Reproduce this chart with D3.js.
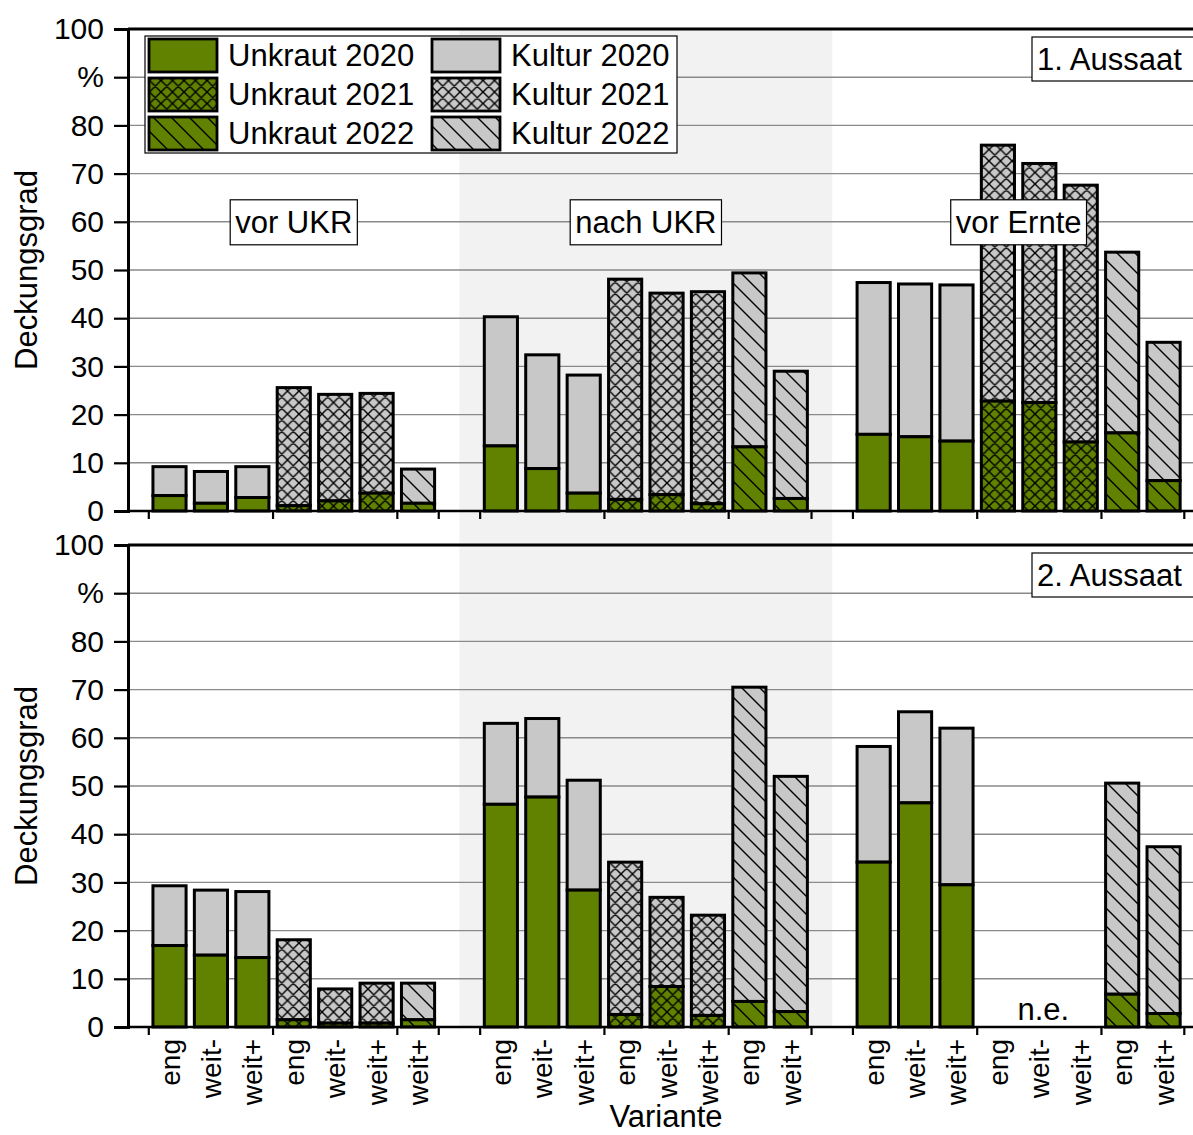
<!DOCTYPE html>
<html>
<head>
<meta charset="utf-8">
<script src="https://cdn.jsdelivr.net/npm/d3@7"></script>
<style>
  body { margin: 0; background: #fff; }
  text { font-family: "Liberation Sans", Arial, sans-serif; fill: #000; }
</style>
</head>
<body>
<svg id="chart" width="1193" height="1135"></svg>
<script>
// ---- data -------------------------------------------------------------
// one slot per bar; null slots are the gaps between the three dates
const variante = ["eng","weit-","weit+","eng","weit-","weit+","weit+",null,
                  "eng","weit-","weit+","eng","weit-","weit+","eng","weit+",null,
                  "eng","weit-","weit+","eng","weit-","weit+","eng","weit+"];
const jahr = [2020,2020,2020,2021,2021,2021,2022,null,
              2020,2020,2020,2021,2021,2021,2022,2022,null,
              2020,2020,2020,2021,2021,2021,2022,2022];
const termine = ["vor UKR", "nach UKR", "vor Ernte"];
const terminSlots = [[0, 6], [8, 15], [17, 24]];
const aussaat = ["1. Aussaat", "2. Aussaat"];

// Deckungsgrad (%) – Unkraut (bottom segment) and Kultur (stacked on top)
const unkraut1 = [3.2,1.6,2.8,1.1,2.1,3.7,1.6,null,
                  13.5,8.8,3.7,2.4,3.4,1.5,13.3,2.6,null,
                  15.9,15.4,14.5,22.8,22.5,14.3,16.2,6.3];
const kultur1  = [6.0,6.6,6.4,24.5,22.1,20.7,7.1,null,
                  26.8,23.6,24.5,45.7,41.8,44.0,36.1,26.4,null,
                  31.5,31.7,32.4,53.1,49.6,53.3,37.5,28.7];
const unkraut2 = [16.9,14.9,14.4,1.5,0.8,0.8,1.5,null,
                  46.2,47.7,28.4,2.6,8.4,2.4,5.3,3.2,null,
                  34.2,46.5,29.5,null,null,null,6.8,2.8];
const kultur2  = [12.4,13.5,13.7,16.6,7.1,8.3,7.6,null,
                  16.8,16.3,22.8,31.6,18.5,20.8,65.2,48.8,null,
                  24.0,18.9,32.5,null,null,null,43.8,34.6];

const yTicks = [0,10,20,30,40,50,60,70,80,90,100];
const yTickLabels = ["0","10","20","30","40","50","60","70","80","%","100"];
const legendLabels = [["Unkraut 2020","Unkraut 2021","Unkraut 2022"],
                      ["Kultur 2020","Kultur 2021","Kultur 2022"]];
const legendYears = [2020, 2021, 2022];

// ---- styling ------------------------------------------------------------
const GREEN = "#608200", GREY = "#c8c8c8", BAND = "#f2f2f2", GRID = "#8a8a8a";
const FONT = 31;

const svg = d3.select("#chart");
const defs = svg.append("defs");

// fill patterns: 2020 solid, 2021 cross-hatch, 2022 diagonal lines
function makePattern(id, color, kind) {
  const s = kind === "cross" ? 11.5 : 18;
  const p = defs.append("pattern").attr("id", id)
    .attr("patternUnits", "userSpaceOnUse").attr("width", s).attr("height", s);
  p.append("rect").attr("width", s).attr("height", s).attr("fill", color);
  let d = `M-2,-2L${s + 2},${s + 2}M-3,${s - 3}L3,${s + 3}M${s - 3},-3L${s + 3},3`;
  if (kind === "cross") d += `M${s + 2},-2L-2,${s + 2}M-3,3L3,-3M${s - 3},${s + 3}L${s + 3},${s - 3}`;
  p.append("path").attr("d", d).attr("stroke", "#000").attr("stroke-width", 1.4).attr("fill", "none");
}
makePattern("g2021", GREEN, "cross");
makePattern("k2021", GREY, "cross");
makePattern("g2022", GREEN, "diag");
makePattern("k2022", GREY, "diag");
function fillFor(year, isWeed) {
  if (year === 2020) return isWeed ? GREEN : GREY;
  return `url(#${isWeed ? "g" : "k"}${year})`;
}

// ---- scales -----------------------------------------------------------
const slots = d3.range(variante.length);
const x = d3.scaleBand().domain(slots).range([148.8, 1184.3])
  .paddingInner(0.2).paddingOuter(0.1);
const step = x.step(), bw = x.bandwidth();
const cx = i => x(i) + bw / 2;
const leftEdge = i => x(i) - step * 0.1;
const rightEdge = i => x(i) + bw + step * 0.1;

const plotLeft = 128, plotRight = 1200;
const panels = [
  { y: d3.scaleLinear().domain([0, 100]).range([511, 29]), unk: unkraut1, kul: kultur1, title: aussaat[0] },
  { y: d3.scaleLinear().domain([0, 100]).range([1027, 545]), unk: unkraut2, kul: kultur2, title: aussaat[1] }
];

// shaded "nach UKR" band spanning both panels
svg.append("rect")
  .attr("x", cx(7)).attr("width", cx(16) - cx(7))
  .attr("y", panels[0].y(100)).attr("height", panels[1].y(0) - panels[0].y(100))
  .attr("fill", BAND);

// year-group boundaries for the x ticks
const xTickPos = [];
slots.forEach(i => {
  if (jahr[i] == null) return;
  if (i === 0 || jahr[i - 1] !== jahr[i]) xTickPos.push(leftEdge(i));
  if (i === slots.length - 1 || jahr[i + 1] == null) xTickPos.push(rightEdge(i));
});

panels.forEach((P, pi) => {
  const g = svg.append("g");
  const y = P.y;

  // horizontal grid
  g.selectAll("line.grid").data(yTicks.filter(t => t > 0 && t < 100)).join("line")
    .attr("x1", plotLeft).attr("x2", plotRight)
    .attr("y1", d => y(d)).attr("y2", d => y(d))
    .attr("stroke", GRID).attr("stroke-width", 1.4);

  // top frame line at 100
  g.append("line").attr("x1", plotLeft).attr("x2", plotRight)
    .attr("y1", y(100)).attr("y2", y(100))
    .attr("stroke", "#000").attr("stroke-width", 2.8);

  // stacked bars
  const bars = slots.filter(i => P.unk[i] != null);
  const bg = g.append("g");
  bars.forEach(i => {
    const u = P.unk[i], k = P.kul[i];
    bg.append("rect")
      .attr("x", x(i)).attr("width", bw)
      .attr("y", y(u + k)).attr("height", y(u) - y(u + k))
      .attr("fill", fillFor(jahr[i], false))
      .attr("stroke", "#000").attr("stroke-width", 3);
    bg.append("rect")
      .attr("x", x(i)).attr("width", bw)
      .attr("y", y(u)).attr("height", y(0) - y(u))
      .attr("fill", fillFor(jahr[i], true))
      .attr("stroke", "#000").attr("stroke-width", 3);
  });

  // x baseline and year-group ticks
  g.append("line").attr("x1", plotLeft).attr("x2", plotRight)
    .attr("y1", y(0)).attr("y2", y(0)).attr("stroke", "#000").attr("stroke-width", 2.4);
  g.selectAll("line.xt").data(xTickPos).join("line")
    .attr("x1", d => d).attr("x2", d => d)
    .attr("y1", y(0)).attr("y2", y(0) + 8)
    .attr("stroke", "#000").attr("stroke-width", 2.2);

  // y axis
  const yAxis = d3.axisLeft(y).tickValues(yTicks)
    .tickFormat((d, i) => yTickLabels[i]).tickSize(14).tickPadding(10);
  const ya = g.append("g").attr("transform", `translate(${plotLeft},0)`).call(yAxis);
  ya.select(".domain").attr("stroke", "#000").attr("stroke-width", 3);
  ya.selectAll(".tick line").attr("stroke", "#000").attr("stroke-width", 2.2);
  ya.selectAll(".tick text").attr("font-size", 30)
    .attr("font-family", '"Liberation Sans", Arial, sans-serif').attr("fill", "#000");

  // y title
  g.append("text")
    .attr("transform", `translate(37,${(y(0) + y(100)) / 2}) rotate(-90)`)
    .attr("text-anchor", "middle").attr("font-size", FONT).text("Deckungsgrad");

  // panel title box
  g.append("rect")
    .attr("x", 1032).attr("y", y(100) + 8).attr("width", 200).attr("height", 44)
    .attr("fill", "#fff").attr("stroke", "#000").attr("stroke-width", 1.2);
  g.append("text").attr("x", 1037).attr("y", y(100) + 41)
    .attr("font-size", FONT).text(P.title);
});

// date labels in boxed text, top panel
const yTop = panels[0].y;
termine.forEach((t, i) => {
  const [a, b] = terminSlots[i];
  const xc = (cx(a) + cx(b)) / 2;
  const lg = svg.append("g");
  const box = lg.append("rect");
  const txt = lg.append("text").attr("x", xc).attr("y", yTop(60)).attr("dy", "0.36em")
    .attr("text-anchor", "middle").attr("font-size", FONT).text(t);
  const bb = txt.node().getBBox();
  box.attr("x", bb.x - 5).attr("width", bb.width + 10)
    .attr("y", yTop(60) - 22).attr("height", 45)
    .attr("fill", "#fff").attr("stroke", "#000").attr("stroke-width", 1.2);
});

// "n.e." marker for the missing 2021 values in the second sowing
svg.append("text").attr("x", (cx(20) + cx(22)) / 2 + 4).attr("y", panels[1].y(0) - 7)
  .attr("text-anchor", "middle").attr("font-size", FONT).text("n.e.");

// x tick labels (bottom panel only)
const yBot = panels[1].y;
svg.append("g").selectAll("text").data(slots.filter(i => variante[i] != null)).join("text")
  .attr("transform", i => `translate(${cx(i) + 10},${yBot(0) + 12}) rotate(-90)`)
  .attr("text-anchor", "end").attr("font-size", 28).text(i => variante[i]);

svg.append("text").attr("x", 666).attr("y", 1127)
  .attr("text-anchor", "middle").attr("font-size", FONT).text("Variante");

// legend
const leg = svg.append("g");
leg.append("rect").attr("x", 145).attr("y", 36).attr("width", 532).attr("height", 117)
  .attr("fill", "#fff").attr("stroke", "#000").attr("stroke-width", 1.2);
const colX = [148, 431];
legendLabels.forEach((col, ci) => {
  col.forEach((lab, ri) => {
    const yy = 38 + ri * 39;
    leg.append("rect").attr("x", colX[ci] + 1).attr("y", yy + 1).attr("width", 68).attr("height", 33)
      .attr("fill", fillFor(legendYears[ri], ci === 0))
      .attr("stroke", "#000").attr("stroke-width", 2.8);
    leg.append("text").attr("x", colX[ci] + 80).attr("y", yy + 17).attr("dy", "0.36em")
      .attr("font-size", FONT).text(lab);
  });
});
</script>
</body>
</html>
